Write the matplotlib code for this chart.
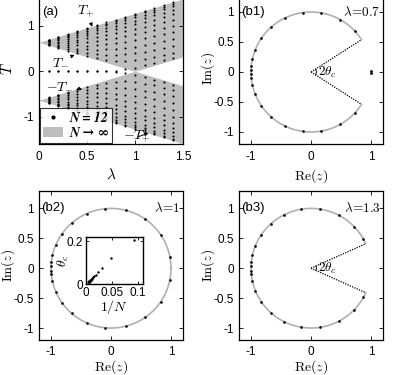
import numpy as np
import matplotlib
matplotlib.use("Agg")
import matplotlib.pyplot as plt
from matplotlib.patches import Patch
from matplotlib.lines import Line2D

plt.rcParams['font.family'] = ['Liberation Sans', 'DejaVu Sans']
plt.rcParams['mathtext.fontset'] = 'cm'

# ---------------- data ----------------
# panel (a): band edges T_pm = c (1 +- lambda), N -> infinity
lam_edge = [0.0, 1.0, 1.5]
Tplus_edge = [0.637, 1.274, 1.592]
Tminus_edge = [0.637, 0.0, 0.318]   # |T_-|

# panel (a): N = 12 spectra (non-negative part; mirrored for negative)
lam_cols = [0.1, 0.2, 0.3, 0.4, 0.5, 0.6, 0.7, 0.8, 0.9, 1.0, 1.1, 1.2, 1.3, 1.4]
T_cols = [
    [0.0, 0.575, 0.583, 0.594, 0.608, 0.624, 0.64, 0.656, 0.671, 0.683, 0.693, 0.698],
    [0.0, 0.515, 0.531, 0.555, 0.585, 0.618, 0.651, 0.682, 0.71, 0.733, 0.75, 0.76],
    [0.0, 0.455, 0.483, 0.523, 0.57, 0.62, 0.669, 0.714, 0.753, 0.785, 0.808, 0.823],
    [0.0, 0.398, 0.44, 0.50, 0.567, 0.633, 0.696, 0.753, 0.802, 0.842, 0.871, 0.887],
    [0.0, 0.343, 0.404, 0.482, 0.565, 0.647, 0.722, 0.79, 0.848, 0.894, 0.928, 0.948],
    [0.001, 0.293, 0.377, 0.476, 0.575, 0.67, 0.757, 0.833, 0.898, 0.95, 0.988, 1.011],
    [0.004, 0.252, 0.362, 0.479, 0.592, 0.699, 0.795, 0.88, 0.951, 1.008, 1.049, 1.074],
    [0.016, 0.226, 0.36, 0.492, 0.617, 0.732, 0.837, 0.928, 1.005, 1.066, 1.11, 1.137],
    [0.041, 0.222, 0.371, 0.513, 0.647, 0.77, 0.881, 0.978, 1.06, 1.125, 1.172, 1.2],
    [0.08, 0.239, 0.393, 0.542, 0.682, 0.812, 0.928, 1.03, 1.116, 1.184, 1.233, 1.263],
    [0.128, 0.27, 0.425, 0.577, 0.722, 0.856, 0.977, 1.083, 1.173, 1.244, 1.295, 1.326],
    [0.182, 0.311, 0.463, 0.617, 0.765, 0.903, 1.028, 1.138, 1.23, 1.304, 1.357, 1.39],
    [0.239, 0.358, 0.506, 0.66, 0.81, 0.952, 1.08, 1.193, 1.288, 1.364, 1.419, 1.453],
    [0.298, 0.41, 0.553, 0.707, 0.859, 1.002, 1.133, 1.249, 1.347, 1.425, 1.482, 1.516],
]

# panels (b): angles (deg) of eigenvalues z on the unit circle, upper half
ang_b1 = [42.5, 60.6, 80, 98, 116, 132, 146, 158, 167.6, 174.5, 177.7]
iso_b1 = [(1.0, 0.012), (1.0, -0.012)]
ang_b2 = [11, 34, 55, 76, 96, 114, 131, 145, 157, 167.5, 174, 177.7]
ang_b3 = [29, 44, 62.6, 81, 100, 117, 132, 146, 158, 167.6, 174, 177.7]
theta_c = {"b1": 32.6, "b3": 24.2}   # deg

# inset: theta_c vs 1/N at lambda = 1
invN = [0.093, 0.048, 0.032, 0.024, 0.0195, 0.0163, 0.014, 0.0122, 0.0108, 0.0097, 0.0088,
        0.008, 0.0074, 0.0068, 0.0063, 0.0059, 0.0055, 0.0052, 0.0049, 0.0046]
thc_inset = [0.205, 0.122, 0.075, 0.056, 0.045, 0.038, 0.032, 0.028, 0.025, 0.022, 0.020,
             0.018, 0.017, 0.0155, 0.0145, 0.0135, 0.0125, 0.012, 0.011, 0.0105]

# ---------------- figure ----------------
W, H = 399, 375
fig = plt.figure(figsize=(W / 100, H / 100), dpi=100)


def ax_px(x0, x1, ytop, ybot):
    return fig.add_axes([x0 / W, 1 - ybot / H, (x1 - x0) / W, (ybot - ytop) / H])


def style(ax, xpad=5):
    ax.tick_params(direction='in', top=True, right=True, length=3, width=0.6,
                   labelsize=8.5)
    ax.tick_params(axis='x', pad=xpad)
    ax.tick_params(axis='y', pad=3.5)
    for s in ax.spines.values():
        s.set_linewidth(0.9)


gray_fill = '#bdbdbd'
circ_gray = '#b0b0b0'
ms = 3.0

# ---- (a)
axa = ax_px(39, 183, -6, 144)
le = np.array(lam_edge)
lam_fine = np.linspace(0, 1.5, 301)
Tp = np.interp(lam_fine, le, Tplus_edge)
Tm = np.interp(lam_fine, le, Tminus_edge)
axa.fill_between(lam_fine, Tm, Tp, color=gray_fill, lw=0)
axa.fill_between(lam_fine, -Tp, -Tm, color=gray_fill, lw=0)
for lam, col in zip(lam_cols, T_cols):
    c = np.array(col)
    x = np.full(len(c), lam)
    axa.plot(x, c, 'k.', ms=ms, mew=0)
    axa.plot(x, -c, 'k.', ms=ms, mew=0)
axa.set_xlim(0, 1.5)
axa.set_ylim(-1.6, 1.7)
axa.set_xticks([0, 0.5, 1, 1.5])
axa.set_xticklabels(['0', '0.5', '1', '1.5'])
axa.set_yticks([-1, 0, 1])
axa.set_yticklabels(['-1', '0', '1'])
axa.set_xlabel(r'$\lambda$', fontsize=11, labelpad=3)
axa.set_ylabel(r'$T$', fontsize=11)
style(axa)
axa.yaxis.set_label_coords(-0.165, 0.5)
axa.text(0.03, 1.3, '(a)', fontsize=9.5, va='center', ha='left')
akw = dict(arrowstyle='-|>', lw=0.7, color='k', mutation_scale=5, shrinkA=1, shrinkB=0)
axa.annotate(r'$T_{+}$', xy=(0.556, 0.98), xytext=(0.49, 1.3), fontsize=10,
             ha='center', va='center', arrowprops=akw)
axa.annotate(r'$T_{-}$', xy=(0.37, 0.36), xytext=(0.22, 0.22), fontsize=10,
             ha='center', va='center', arrowprops=akw)
axa.annotate(r'$-T_{-}$', xy=(0.45, -0.40), xytext=(0.22, -0.29), fontsize=10,
             ha='center', va='center', arrowprops=akw)
axa.annotate(r'$-T_{+}$', xy=(1.14, -1.36), xytext=(1.02, -1.45), fontsize=10,
             ha='center', va='center', arrowprops=akw)
leg_handles = [Line2D([], [], ls='', marker='.', color='k', ms=6, mew=0),
               Patch(facecolor=gray_fill, edgecolor='none')]
leg = axa.legend(leg_handles, ['N = 12', 'N \u2192 \u221e'], loc='lower left',
                 frameon=True, fancybox=False, edgecolor='k',
                 borderpad=0.2, handlelength=1.4, handletextpad=0.5, labelspacing=0.1,
                 borderaxespad=0.1,
                 prop={'family': ['STIXGeneral', 'DejaVu Serif'], 'weight': 'bold',
                       'style': 'italic', 'size': 10})
leg.get_frame().set_linewidth(0.8)


def circle_panel(ax, angs, thc, label, lamtext, xpad, xlpad):
    tt = np.linspace(np.deg2rad(thc), 2 * np.pi - np.deg2rad(thc), 400)
    ax.plot(np.cos(tt), np.sin(tt), color=circ_gray, lw=1.2, zorder=1)
    a = np.deg2rad(np.array(angs))
    xs = np.concatenate([np.cos(a), np.cos(a)])
    ys = np.concatenate([np.sin(a), -np.sin(a)])
    ax.plot(xs, ys, 'k.', ms=3.8, mew=0, zorder=3)
    if thc > 0:
        th = np.deg2rad(thc)
        ax.plot([0, np.cos(th)], [0, np.sin(th)], color='k', ls=(0, (1, 1)), lw=0.9)
        ax.plot([0, np.cos(th)], [0, -np.sin(th)], color='k', ls=(0, (1, 1)), lw=0.9)
        ta = np.linspace(-th, th, 50)
        ax.plot(0.09 * np.cos(ta), 0.09 * np.sin(ta), color='k', lw=0.7)
        ax.text(0.12, 0.0, r'$2\theta_c$', fontsize=9.5, va='center', ha='left')
    ax.set_xlim(-1.2, 1.2)
    ax.set_ylim(-1.2, 1.3)
    ax.set_xticks([-1, 0, 1])
    ax.set_xticklabels(['-1', '0', '1'])
    ax.set_yticks([-1, -0.5, 0, 0.5, 1])
    ax.set_yticklabels(['-1', '-0.5', '0', '0.5', '1'])
    ax.set_xlabel(r'$\mathrm{Re}(z)$', fontsize=10, labelpad=xlpad)
    ax.set_ylabel(r'$\mathrm{Im}(z)$', fontsize=9.5)
    style(ax, xpad)
    ax.yaxis.set_label_coords(-0.155, 0.5)
    ax.text(-1.17, 1.0, label, fontsize=9.5, va='center', ha='left')
    ax.text(1.16, 1.0, lamtext, fontsize=9.5, va='center', ha='right')


axb1 = ax_px(239, 383, -6, 144)
circle_panel(axb1, ang_b1, theta_c["b1"], '(b1)', r'$\lambda\!=\!0.7$', 5, 3)
axb1.plot([p[0] for p in iso_b1], [p[1] for p in iso_b1], 'k.', ms=4, mew=0)

axb2 = ax_px(39, 183, 190.5, 340)
circle_panel(axb2, ang_b2, 0, '(b2)', r'$\lambda\!=\!1$', 4, 0.5)

axb3 = ax_px(239, 383, 190.5, 340)
circle_panel(axb3, ang_b3, theta_c["b3"], '(b3)', r'$\lambda\!=\!1.3$', 4, 0.5)

# inset
axi = fig.add_axes([86 / W, 1 - 284.3 / H, (142.7 - 86) / W, (284.3 - 236.7) / H])
axi.plot(invN, thc_inset, 'k.', ms=3.5, mew=0)
axi.set_xlim(0, 0.11)
axi.set_ylim(0, 0.22)
axi.set_xticks([0, 0.05, 0.1])
axi.set_xticklabels(['0', '0.05', '0.1'])
axi.set_yticks([0, 0.2])
axi.set_yticklabels(['0', '0.2'])
axi.tick_params(direction='in', top=True, right=True, length=2, width=0.6,
                labelsize=8.5, pad=2)
for s in axi.spines.values():
    s.set_linewidth(1.0)
axi.set_xlabel(r'$1/N$', fontsize=10, labelpad=-1)
axi.set_ylabel(r'$\theta_c$', fontsize=10)
axi.yaxis.set_label_coords(-0.27, 0.5)

fig.savefig('out.png', dpi=100)
